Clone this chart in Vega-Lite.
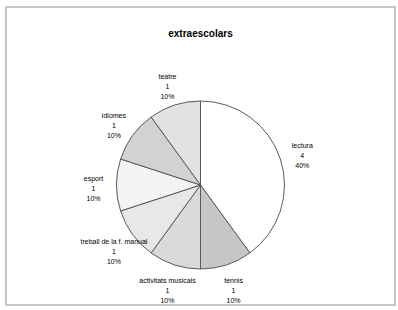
{
  "$schema": "https://vega.github.io/schema/vega-lite/v6.json",
  "width": 398,
  "height": 310,
  "autosize": {"type": "fit", "contains": "padding"},
  "padding": {"left": 6, "top": 7, "right": 3, "bottom": 5},
  "background": "#ffffff",
  "view": {"stroke": "#c8c8c8", "strokeWidth": 2},
  "title": {
    "text": "extraescolars",
    "font": "Liberation Sans",
    "fontSize": 10,
    "fontWeight": "bold",
    "color": "#000000",
    "anchor": "middle",
    "offset": -32,
    "baseline": "top"
  },
  "data": {
    "values": [
      {"activitat": "lectura", "n": 4, "ordre": 1},
      {"activitat": "tennis", "n": 1, "ordre": 2},
      {"activitat": "activitats musicals", "n": 1, "ordre": 3},
      {"activitat": "treball de la f. manual", "n": 1, "ordre": 4},
      {"activitat": "esport", "n": 1, "ordre": 5},
      {"activitat": "idiomes", "n": 1, "ordre": 6},
      {"activitat": "teatre", "n": 1, "ordre": 7}
    ]
  },
  "transform": [
    {"joinaggregate": [{"op": "sum", "field": "n", "as": "total"}]},
    {"calculate": "[datum.activitat, '' + datum.n, format(datum.n / datum.total, '.0%')]", "as": "etiqueta"}
  ],
  "encoding": {
    "theta": {"field": "n", "type": "quantitative", "stack": true},
    "order": {"field": "ordre", "type": "quantitative"}
  },
  "layer": [
    {
      "mark": {"type": "arc", "outerRadius": 84, "stroke": "#5a5a5a", "strokeWidth": 1, "yOffset": 29},
      "encoding": {
        "color": {
          "field": "activitat",
          "type": "nominal",
          "sort": ["lectura", "tennis", "activitats musicals", "treball de la f. manual", "esport", "idiomes", "teatre"],
          "scale": {"range": ["#ffffff", "#c6c6c6", "#dadada", "#e8e8e8", "#f4f4f4", "#d2d2d2", "#e2e2e2"]},
          "legend": null
        }
      }
    },
    {
      "mark": {"type": "text", "radius": 107, "yOffset": 23, "font": "Liberation Sans", "fontSize": 7, "lineHeight": 10, "fill": "#000000", "align": "center", "baseline": "middle"},
      "encoding": {
        "text": {"field": "etiqueta"}
      }
    }
  ]
}
